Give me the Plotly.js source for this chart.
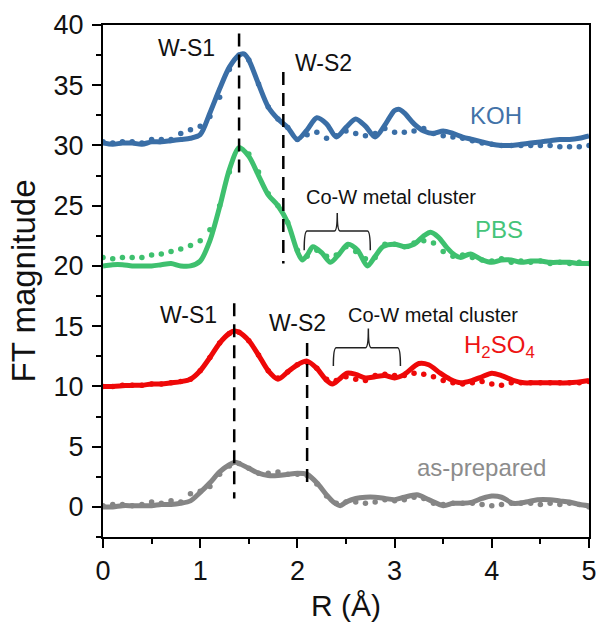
<!DOCTYPE html>
<html>
<head>
<meta charset="utf-8">
<script src="https://cdn.plot.ly/plotly-3.0.1.min.js"></script>
<style>html,body{margin:0;padding:0;background:#fff;}#chart{width:600px;height:626px;}</style>
</head>
<body>
<div id="chart"></div>
<script>
// ---------- data ----------
// measured data points (dots), common R grid
const rData = [0,0.1,0.2,0.3,0.4,0.5,0.6,0.7,0.8,0.9,1.0,1.1,1.2,1.3,1.4,1.5,1.6,1.7,1.8,1.9,2.0,2.1,2.2,2.3,2.4,2.5,2.6,2.7,2.8,2.9,3.0,3.1,3.2,3.3,3.4,3.5,3.6,3.7,3.8,3.9,4.0,4.1,4.2,4.3,4.4,4.5,4.6,4.7,4.8,4.9,5.0];
const kohData = [30.3,30.2,30.3,30.3,30.2,30.5,30.5,30.5,31.0,31.3,31.6,32.4,34.0,36.3,37.5,37.1,35.1,33.2,32.2,31.5,30.5,30.9,31.1,30.6,30.8,31.2,31.0,30.8,31.0,31.4,31.1,31.1,31.2,31.4,31.0,30.8,30.7,30.6,30.4,30.2,30.1,30.0,30.0,30.0,30.0,30.0,30.0,29.9,29.9,29.9,30.0];
const pbsData = [20.7,20.6,20.7,20.7,20.7,20.9,21.0,21.2,21.4,21.7,22.1,23.0,25.0,27.8,29.8,29.3,27.8,26.0,25.0,23.6,21.3,20.8,21.3,20.8,20.9,21.6,21.2,20.6,20.7,21.8,21.8,21.6,21.9,22.1,21.9,21.2,20.8,20.9,20.7,20.5,20.4,20.6,20.3,20.4,20.3,20.4,20.2,20.3,20.2,20.3,20.2];
const h2so4Data = [10.0,10.0,10.1,10.1,10.1,10.2,10.2,10.3,10.4,10.6,11.3,12.4,13.6,14.4,14.5,13.8,12.6,11.3,10.7,11.2,11.8,12.0,11.5,10.6,10.5,10.8,10.6,10.5,10.9,11.0,10.9,10.9,11.1,11.0,10.8,10.5,10.3,10.2,10.3,10.4,10.2,10.1,10.3,10.3,10.3,10.3,10.3,10.3,10.3,10.3,10.4];
const asPrepData = [0.1,0.2,0.2,0.1,0.2,0.4,0.3,0.5,0.4,1.1,1.3,1.7,2.7,3.4,3.6,3.2,2.8,2.8,2.9,2.7,2.7,2.6,1.9,0.9,0.3,0.4,0.4,0.3,0.4,0.6,0.5,0.6,0.8,0.7,0.3,0.2,0.3,0.3,0.3,0.2,0.1,0.2,0.3,0.3,0.3,0.2,0.3,0.2,0.3,0.2,0.0];

// fitted curves (solid lines)
const kohFitR = [0,0.1,0.2,0.3,0.4,0.5,0.6,0.7,0.8,0.9,1.0,1.1,1.2,1.3,1.4,1.45,1.5,1.6,1.7,1.8,1.9,2.0,2.1,2.2,2.3,2.4,2.5,2.6,2.7,2.8,2.9,3.0,3.05,3.1,3.2,3.3,3.4,3.5,3.6,3.7,3.8,3.9,4.0,4.1,4.2,4.3,4.4,4.5,4.6,4.7,4.8,4.9,5.0];
const kohFit = [30.2,30.1,30.2,30.2,30.1,30.3,30.3,30.4,30.5,30.6,30.9,32.7,34.7,36.5,37.5,37.6,37.1,35.1,33.2,32.2,31.5,30.5,31.3,32.3,31.8,30.7,31.5,32.2,31.6,30.7,31.7,32.9,33.0,32.7,31.8,31.2,31.0,31.2,31.0,30.7,30.5,30.3,30.1,30.0,30.0,30.1,30.2,30.3,30.4,30.5,30.5,30.6,30.8];
const pbsFitR = [0,0.1,0.2,0.3,0.4,0.5,0.6,0.7,0.8,0.9,1.0,1.1,1.2,1.3,1.4,1.5,1.6,1.7,1.8,1.9,2.0,2.05,2.1,2.16,2.25,2.34,2.43,2.52,2.62,2.72,2.8,2.88,3.0,3.1,3.2,3.3,3.37,3.45,3.54,3.62,3.68,3.78,3.9,4.0,4.1,4.2,4.3,4.4,4.5,4.6,4.7,4.8,4.9,5.0];
const pbsFit = [20.0,20.1,20.1,20.0,20.0,20.0,20.1,20.2,20.0,20.0,20.4,22.1,24.9,28.0,29.8,29.1,27.5,25.9,25.0,23.6,21.2,20.5,20.9,21.6,21.1,20.3,21.0,21.8,21.3,20.0,20.8,21.6,21.8,21.6,21.8,22.5,22.8,22.4,21.5,20.9,20.7,21.0,20.5,20.3,20.5,20.5,20.3,20.4,20.4,20.3,20.3,20.3,20.2,20.2];
const h2so4FitR = [0,0.1,0.2,0.3,0.4,0.5,0.6,0.7,0.8,0.9,1.0,1.1,1.2,1.3,1.35,1.4,1.5,1.6,1.7,1.8,1.9,2.0,2.1,2.2,2.3,2.36,2.43,2.51,2.6,2.7,2.8,2.9,3.0,3.1,3.25,3.35,3.47,3.57,3.68,3.8,3.9,4.0,4.1,4.22,4.33,4.43,4.6,4.8,5.0];
const h2so4Fit = [10.0,10.0,10.05,10.1,10.1,10.2,10.2,10.3,10.4,10.6,11.3,12.4,13.6,14.4,14.6,14.5,13.8,12.6,11.3,10.6,11.2,11.8,12.1,11.5,10.5,10.2,10.6,11.1,11.0,10.7,10.8,10.9,10.7,11.0,11.9,11.8,11.1,10.6,10.3,10.5,10.8,11.1,10.9,10.5,10.3,10.3,10.3,10.3,10.5];
const asPrepFitR = [0,0.1,0.2,0.3,0.4,0.5,0.6,0.7,0.8,0.9,1.0,1.1,1.2,1.3,1.36,1.4,1.5,1.6,1.7,1.8,1.9,2.0,2.1,2.2,2.3,2.37,2.44,2.5,2.6,2.7,2.8,2.9,3.0,3.1,3.23,3.35,3.5,3.6,3.7,3.8,3.9,4.0,4.1,4.22,4.35,4.47,4.6,4.7,4.8,4.9,5.0];
const asPrepFit = [0.0,0.0,0.1,0.1,0.1,0.1,0.2,0.2,0.3,0.5,1.2,2.0,2.9,3.5,3.7,3.6,3.2,2.8,2.6,2.6,2.7,2.8,2.7,2.0,1.0,0.4,0.1,0.4,0.7,0.8,0.8,0.7,0.6,0.8,1.0,0.6,0.1,0.3,0.3,0.4,0.7,0.9,0.8,0.3,0.4,0.6,0.6,0.5,0.4,0.2,0.1];

const sampleNames = ['KOH', 'PBS', 'H<sub>2</sub>SO<sub>4</sub>', 'as-prepared'];
const xTickVals = [0,1,2,3,4,5];
const yTickVals = [0,5,10,15,20,25,30,35,40];

// ---------- styling ----------
const colors = ['#3a6ea6', '#3ec06e', '#ee0808', '#858585'];
const labelColors = ['#4272a8', '#45c479', '#ee1414', '#8c8c8c'];
const FONT = 'Liberation Sans, Arial, sans-serif';

const series = [
  {data: kohData, fitR: kohFitR, fit: kohFit},
  {data: pbsData, fitR: pbsFitR, fit: pbsFit},
  {data: h2so4Data, fitR: h2so4FitR, fit: h2so4Fit},
  {data: asPrepData, fitR: asPrepFitR, fit: asPrepFit}
];

const traces = [];
series.forEach((s, i) => {
  traces.push({x: rData, y: s.data, type: 'scatter', mode: 'markers',
    marker: {color: colors[i], size: 5.5}, hoverinfo: 'skip', showlegend: false});
});
series.forEach((s, i) => {
  traces.push({x: s.fitR, y: s.fit, type: 'scatter', mode: 'lines',
    line: {color: colors[i], width: 5, shape: 'spline', smoothing: 0.8}, hoverinfo: 'skip', showlegend: false});
});

const dashPat = '13px,8px';
function vline(x, y0, y1) {
  return {type: 'line', xref: 'x', yref: 'y', x0: x, x1: x, y0: y0, y1: y1,
    line: {color: '#000', width: 2.5, dash: dashPat}};
}
function bracket(xa, xm, xb, yLine, yTip, yCusp) {
  const r = 0.03;
  const p = `M ${xa},${yTip} Q ${xa},${yLine} ${xa + r},${yLine} L ${xm - r},${yLine} Q ${xm},${yLine} ${xm},${yCusp} Q ${xm},${yLine} ${xm + r},${yLine} L ${xb - r},${yLine} Q ${xb},${yLine} ${xb},${yTip}`;
  return {type: 'path', xref: 'x', yref: 'y', path: p, line: {color: '#222', width: 1.5}};
}

const shapes = [
  vline(1.40, 39.3, 27.1),
  vline(1.855, 36.1, 20.2),
  vline(1.35, 16.9, 0.7),
  vline(2.10, 13.6, 1.5),
  bracket(2.07, 2.41, 2.75, 22.9, 21.3, 24.4),
  bracket(2.37, 2.73, 3.06, 13.2, 11.7, 14.8)
];

function ann(text, x, y, size, color) {
  return {text: text, x: x, y: y, xref: 'x', yref: 'y', showarrow: false,
    xanchor: 'center', yanchor: 'middle', font: {family: FONT, size: size, color: color}};
}
const annotations = [
  ann('W-S1', 0.864, 38.1, 23, '#111'),
  ann('W-S2', 2.27, 36.85, 23, '#111'),
  ann(sampleNames[0], 4.04, 32.5, 24, labelColors[0]),
  ann('Co-W metal cluster', 2.96, 25.7, 20, '#111'),
  ann(sampleNames[1], 4.07, 23.0, 24, labelColors[1]),
  ann('W-S1', 0.875, 15.9, 23, '#111'),
  ann('W-S2', 2.0, 15.3, 23, '#111'),
  ann('Co-W metal cluster', 3.4, 15.9, 20, '#111'),
  ann(sampleNames[2], 4.08, 13.3, 24, labelColors[2]),
  ann(sampleNames[3], 3.89, 3.3, 24, labelColors[3])
];

const axisCommon = {
  showgrid: false, zeroline: false, showline: true, linecolor: '#000', linewidth: 2,
  mirror: true, ticks: 'outside', ticklen: 9, tickwidth: 2, tickcolor: '#000',
  tickfont: {family: FONT, size: 27, color: '#111'}
};

const layout = {
  width: 600, height: 626,
  margin: {l: 103, r: 11, t: 25, b: 89},
  paper_bgcolor: '#fff', plot_bgcolor: '#fff',
  font: {family: FONT, color: '#111'},
  showlegend: false,
  xaxis: Object.assign({}, axisCommon, {
    range: [0, 5], tickvals: xTickVals, ticktext: xTickVals.map(String),
    minor: {dtick: 0.5, ticks: 'outside', ticklen: 5, tickwidth: 2, tickcolor: '#000'},
    title: {text: 'R (Å)', font: {family: FONT, size: 30, color: '#111'}, standoff: 10}
  }),
  yaxis: Object.assign({}, axisCommon, {
    range: [-2.5, 40], tickvals: yTickVals, ticktext: yTickVals.map(String),
    minor: {dtick: 2.5, ticks: 'outside', ticklen: 5, tickwidth: 2, tickcolor: '#000'},
    ticklabelstandoff: 3,
    title: {text: 'FT magnitude', font: {family: FONT, size: 33, color: '#111'}, standoff: 8}
  }),
  shapes: shapes,
  annotations: annotations
};

Plotly.newPlot('chart', traces, layout, {displayModeBar: false, staticPlot: true});
</script>
</body>
</html>
